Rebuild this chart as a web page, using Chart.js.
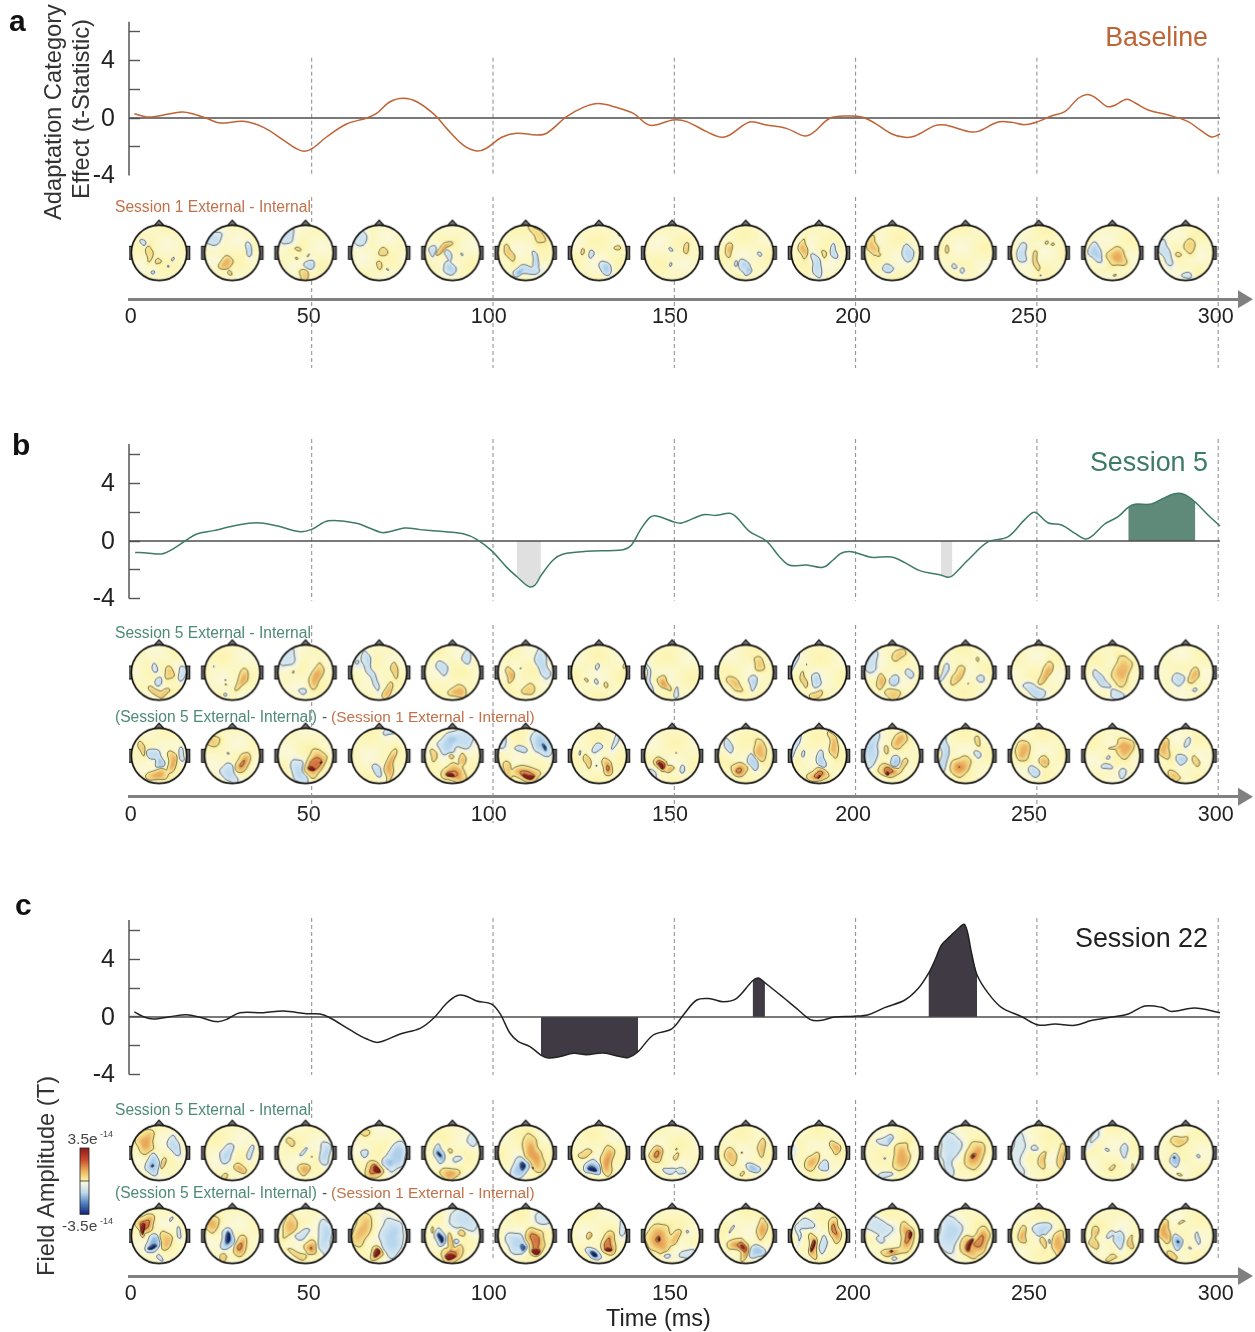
<!DOCTYPE html>
<html>
<head>
<meta charset="utf-8">
<title>Adaptation category effect</title>
<script src="https://cdn.jsdelivr.net/npm/chart.js@4/dist/chart.umd.min.js"></script>
<style>
  html, body { margin: 0; background: #fff; overflow: hidden; }
  canvas { position: absolute; left: 0; }
</style>
</head>
<body>
<canvas id="panelA" width="1255" height="380" style="top:0"></canvas>
<canvas id="panelB" width="1255" height="405" style="top:425px"></canvas>
<canvas id="panelC" width="1255" height="442" style="top:890px"></canvas>
<script>
// Time courses (ms, t-statistic)
var timesA = [1.1,4.5,7.3,14.2,17.4,21,24.7,31.2,36.7,42.2,45.9,47.9,50,54.1,59.6,65.2,67.9,71.6,75.3,79,84,87.2,91.8,95.5,98.2,102.4,106.5,112,114.8,120.3,124.9,129,134,138.7,143.3,149.7,153.4,158.9,163,165.3,170.8,175.4,180.9,186,188.3,192.9,198,201.7,205.4,210,213.6,216.4,221.9,224.7,231,233.8,239.3,243,246.7,250.3,254,257.7,261.4,263.9,266,269.2,271,274.7,277,280.7,286.2,291.7,295,298.2,300.5];
var valuesA = [0.3,0.07,0.12,0.42,0.28,-0.02,-0.35,-0.23,-0.65,-1.53,-2.15,-2.31,-2.15,-1.32,-0.42,0,0.32,1.13,1.37,1.13,0.2,-0.72,-1.88,-2.29,-2.1,-1.34,-1.06,-1.18,-1.06,0.09,0.74,1,0.74,0.32,-0.51,-0.14,-0.25,-0.95,-1.34,-1.18,-0.28,-0.49,-0.72,-1.25,-1.02,-0.02,0.14,0.07,-0.37,-1.11,-1.34,-1.25,-0.53,-0.49,-0.93,-0.93,-0.28,-0.3,-0.46,-0.25,0.14,0.44,1.37,1.64,1.44,0.81,0.83,1.3,1.06,0.56,0.21,-0.25,-0.83,-1.32,-1.11];

var timesB = [1.3,4.5,8.6,10.9,15.5,18.3,22.9,28.4,34.8,40.3,46.8,50,54.6,62.4,66.1,69.8,75.7,79.9,85.4,91.8,95.5,99.6,103.8,106.6,109.9,111.6,113.2,116.6,119.4,125.8,135.9,138.2,140.6,143.3,145.1,149.7,152,158,161.6,165.3,167.2,170.8,175.4,179,181.8,186.5,191,193.8,195.7,197,199.3,204.4,209.9,213.6,217.7,223.5,225.5,226.7,231,236.6,242,246.7,249.4,253,256.8,260.5,263.2,265,268.7,272.4,275.2,277,281.6,284.8,288,290.8,293.7,297.2,300.5];
var valuesB = [-0.79,-0.83,-0.9,-0.67,0.07,0.49,0.72,1.04,1.27,1.06,0.65,0.81,1.41,1.23,0.88,0.58,0.9,0.79,0.67,0.51,0.12,-0.67,-1.83,-2.48,-3.17,-3.06,-2.41,-1.32,-0.9,-0.72,-0.6,-0.28,0.76,1.64,1.74,1.34,1.25,1.83,1.78,1.92,1.64,0.65,0,-1.09,-1.69,-1.67,-1.83,-1.32,-0.9,-0.76,-0.76,-1.13,-1.11,-1.5,-2.06,-2.36,-2.52,-2.41,-1.32,-0.05,0.28,1.5,2,1.27,1.11,0.53,0.14,0.3,1.18,1.69,2.34,2.55,2.57,2.96,3.29,3.22,2.69,1.81,1.04];

var timesC = [1.1,3.6,6.3,10.9,15.5,19.2,23.8,26.6,30.2,36.7,42.2,48.6,52.3,55,60.6,65.2,68.4,74.4,79.9,83.6,87.2,90,92.3,95.5,99.6,101.9,104.7,107,110.2,113.2,115.3,118.5,122.2,125.8,130.4,135,137.3,140,144.2,149.3,152.5,156.2,159.9,163.5,167.2,171.6,173.2,175,180,183.7,187.4,190.2,194.3,199.6,203.5,208,213.6,217.3,220.1,221.9,223.7,226,227.9,230.1,232,233.5,236.6,240.2,245.8,250.4,255,260.5,265,270.6,275.2,279.8,284.4,287.1,293.5,300.5];
var valuesC = [0.35,0.02,-0.14,0.02,0.16,-0.02,-0.32,-0.16,0.3,0.3,0.42,0.23,0.21,-0.05,-0.9,-1.53,-1.76,-1.18,-0.79,-0.09,0.95,1.48,1.48,1.11,0.9,0.25,-1.13,-1.71,-2.06,-2.64,-2.85,-2.75,-2.52,-2.62,-2.5,-2.75,-2.82,-2.41,-1.25,-0.83,0.14,1.18,1.27,1.06,1.3,2.52,2.71,2.38,1.37,0.6,-0.16,-0.25,0,0.05,0.16,0.65,1.18,1.99,3.03,3.96,5,5.58,6.04,6.41,4.42,2.92,1.64,0.67,0.02,-0.56,-0.49,-0.58,-0.25,0,0.21,0.76,0.67,0.39,0.62,0.3];

// Significant time windows (ms)
var shadeB = [[106.6,113.2],[223.5,226.7],[275.2,293.7]];
var shadeC = [[113.2,140],[171.6,175],[220.1,233.5]];

// Axis ticks
var yTicks = [-4,-2,0,2,4,6];
var yLabelled = [-4,0,4];
var xTickLabels = ['0','50','100','150','200','250','300'];
var xLabelAt = [0.1,49.2,98.8,148.8,199.3,247.8,299.3];
var dashTimes = [50,100,150,200,250,300];

// Time each scalp map is taken at (ms)
var headTimes = [7.9,28.1,48.3,68.6,88.8,109,129.2,149.4,169.7,189.9,210.1,230.3,250.5,270.8,291];

// Scalp maps: one list per head, each patch is [x, y, rx, ry, rot, amplitude]
var topoA = [
 [[-54,-40,10,12,0,-25],[-37,2,10,25,10,22],[-6,36,8,8,0,22],[46,19,5,5,0,-22],[36,45,5,5,0,-22],[-19,72,6,6,0,-22]],
 [[-70,-55,30,25,0,-30],[58,-10,10,25,0,-30],[-24,39,20,20,0,45],[-4,75,8,8,0,30]],
 [[-64,-58,22,28,35,-25],[-31,-18,9,5,0,22],[-31,22,4,4,0,22],[18,45,16,17,0,-30],[-10,75,15,20,-20,35],[12,8,3,3,0,-22]],
 [[-70,-52,18,32,30,-25],[17,-1,12,14,0,25],[-1,50,9,15,0,25],[26,58,3,3,0,-22]],
 [[-67,-10,10,20,10,-25],[-28,-16,10,34,50,45],[-13,8,10,14,0,-25],[-12,57,18,22,-30,-30],[39,2,3,6,0,-25]],
 [[39,-70,14,38,-40,25],[-58,-4,12,28,-20,35],[2,63,38,14,0,-30],[33,20,10,28,0,-30],[-28,75,14,14,0,-30]],
 [[-65,-10,6,10,0,22],[-31,5,7,11,0,-22],[63,-18,10,8,0,25],[75,-64,5,12,-35,22],[29,53,20,20,15,-35]],
 [[0,-12,6,5,0,-20],[54,-12,9,15,10,30],[-7,42,5,9,0,-20]],
 [[-58,-13,12,24,0,42],[-10,50,15,22,-25,-30],[8,72,12,12,0,-28],[53,0,7,9,0,-20],[-40,33,5,8,0,-20]],
 [[-55,-16,14,33,0,45],[-10,45,16,38,-20,-30],[16,2,8,12,0,22],[53,-4,11,23,0,-28]],
 [[-70,-28,17,35,-10,40],[-52,12,6,6,0,25],[54,5,17,28,10,-30],[-12,54,17,13,0,-30]],
 [[-70,-10,6,15,0,25],[-34,45,8,8,0,-20],[-10,65,10,11,0,-20]],
 [[-60,0,17,33,-15,-30],[-10,24,8,30,0,30],[22,-37,6,6,0,25],[48,-28,6,5,0,25],[6,77,4,4,0,-18]],
 [[-59,2,20,32,-15,-35],[16,17,30,30,0,50],[10,82,6,3,0,25]],
 [[-72,2,17,40,-15,-25],[19,-22,16,25,10,28],[-26,6,7,7,0,20],[10,84,18,10,0,-22]]
];
var topoB1 = [
 [[-19,-19,11,14,0,-22],[2,27,13,16,0,-25],[35,3,14,24,-25,35],[-16,65,22,12,25,35],[20,72,20,10,-20,35],[81,3,12,22,0,-22]],
 [[33,27,15,34,25,45],[-28,24,3,3,0,25],[-25,42,3,3,0,25],[-22,78,7,5,0,-20],[-64,-22,2,3,0,-20]],
 [[-64,-52,25,30,35,-22],[39,15,17,45,15,50],[-13,63,10,8,0,-22],[-45,3,3,6,0,-30]],
 [[-31,-4,10,62,-20,-25],[-64,-45,12,10,0,-12],[59,-7,10,25,0,35],[32,69,12,25,15,42]],
 [[-34,-19,16,20,0,-25],[53,-58,13,22,0,-25],[24,72,30,20,0,50]],
 [[-60,11,13,28,0,48],[60,-34,18,50,-12,-30],[14,65,20,18,0,35],[-19,-18,3,3,0,-25]],
 [[-4,-18,5,8,0,-20],[-48,22,5,5,0,25],[-10,36,5,9,0,-22],[20,45,8,10,0,25],[93,-22,6,12,0,22]],
 [[-82,27,8,55,-12,-20],[-28,39,14,30,-40,55],[14,69,6,20,25,-22]],
 [[45,-28,15,28,-25,35],[-40,45,16,30,-30,38],[27,35,12,26,15,-30]],
 [[-92,-34,8,50,15,-20],[-55,27,8,24,0,32],[-10,27,15,24,0,-28],[-12,81,20,12,0,30],[-49,-34,2,2,0,-25]],
 [[-76,-40,20,35,0,-22],[23,-67,22,16,0,32],[-43,36,11,24,0,40],[2,24,16,16,0,-28],[59,6,11,13,0,-25],[8,75,25,16,0,35]],
 [[-78,0,11,30,20,-25],[-30,8,16,36,25,40],[48,-48,5,9,0,22],[54,17,14,13,0,-25],[11,42,2,2,0,30]],
 [[24,2,16,36,25,48],[-14,63,34,18,25,-28]],
 [[34,-12,28,50,5,45],[-38,24,12,40,-35,-28],[16,81,20,16,0,-22]],
 [[-24,21,20,22,0,-30],[30,11,17,25,0,45],[34,66,10,6,-30,-20]]
];
var topoB2 = [
 [[-58,-27,9,22,-15,30],[-22,-8,22,20,25,-30],[0,28,14,20,0,-38],[45,16,15,36,5,48],[-4,70,35,18,0,50],[81,-2,9,22,0,-22]],
 [[-70,-57,22,18,0,30],[36,22,22,34,25,55],[-10,64,24,30,-25,-30],[-19,-6,4,4,0,-20]],
 [[33,28,30,50,20,68],[24,49,10,6,0,90],[-22,58,20,50,-25,-30],[50,18,3,3,0,85]],
 [[39,40,14,55,12,50],[-7,52,14,18,0,-28],[45,-87,20,10,0,-20]],
 [[-16,-39,28,35,25,-35],[39,-63,35,30,0,-28],[-72,-2,10,22,0,32],[-10,7,8,10,0,25],[8,64,40,30,0,60],[-7,72,12,8,0,85],[33,10,10,20,0,40]],
 [[-22,-24,18,10,0,-28],[57,-39,30,45,-25,-35],[63,-27,5,12,0,-55],[-64,46,12,28,0,35],[2,64,45,25,0,65],[5,70,20,6,0,100],[-84,-57,15,25,30,-20]],
 [[-5,-29,14,14,0,-25],[57,-57,8,25,15,-18],[-40,16,10,20,0,35],[27,42,17,28,0,60],[-67,-6,3,8,0,-30],[-10,40,2,2,0,-25]],
 [[-40,28,20,20,0,75],[-10,46,14,10,0,45],[-43,31,5,9,0,95],[33,49,8,14,15,-22],[-76,64,6,22,-40,-15],[15,-3,2,2,0,30]],
 [[-64,-33,12,25,-25,-28],[51,-23,20,36,-15,45],[-28,46,28,22,0,60],[27,25,14,24,0,-30]],
 [[-85,-33,8,50,15,-20],[51,-45,14,42,-15,45],[8,16,13,26,0,-30],[-52,-8,6,12,0,-20],[-4,70,35,20,0,60],[0,78,4,4,0,100]],
 [[-76,-20,22,60,10,-30],[27,-59,23,25,0,45],[6,16,16,18,0,-35],[-10,52,35,20,0,65],[-12,64,6,5,0,100],[-18,-20,8,12,0,30],[38,34,8,22,20,35]],
 [[-78,-2,14,60,5,-32],[-18,34,32,32,0,55],[47,-54,10,18,-10,30],[39,-6,10,10,0,-22]],
 [[-57,-18,22,34,-20,45],[22,16,14,22,0,42],[-20,58,17,20,0,-30]],
 [[43,-33,25,38,-30,50],[3,-30,22,5,-25,25],[-20,42,17,10,0,-25],[31,58,11,15,0,-22],[-8,10,7,5,0,-22]],
 [[-75,-27,18,34,0,45],[-18,13,17,20,0,-35],[-39,70,25,14,30,40],[34,16,10,15,0,32],[7,-45,10,18,0,-22]]
];
var topoC1 = [
 [[-46,-40,28,40,0,50],[-22,45,20,40,-15,-38],[-22,47,4,4,0,-60],[14,36,8,20,0,35],[57,-24,16,34,-15,-28]],
 [[-19,2,20,30,0,-30],[66,-4,10,22,0,-25],[24,57,18,15,0,45],[-31,81,10,12,0,28]],
 [[-58,-37,10,12,0,25],[-12,-7,12,6,-45,-15],[70,2,18,38,0,-32],[-7,57,20,18,0,50],[26,20,2,2,0,25]],
 [[-52,-76,16,12,0,22],[-48,-1,12,14,0,-25],[63,14,30,48,15,-35],[27,32,14,14,0,-25],[-22,63,32,26,30,68],[-12,66,14,8,40,95]],
 [[-49,8,15,32,0,-50],[-49,8,3,8,0,-65],[-6,-10,8,8,0,25],[14,24,15,10,0,-20],[-4,72,32,18,0,50],[75,-52,14,20,0,-18]],
 [[27,2,28,60,-20,55],[-24,57,28,36,0,-40],[-16,50,8,14,0,-65],[23,53,4,4,0,85]],
 [[-52,2,20,12,0,30],[30,27,20,50,0,55],[-22,57,28,24,0,-55],[-24,63,12,8,0,-90]],
 [[-54,8,22,26,0,60],[17,14,9,10,0,25],[-19,60,20,10,0,-22],[30,71,15,10,0,-22],[14,-10,2,2,0,25]],
 [[-52,8,18,28,10,40],[59,-22,10,30,0,35],[20,53,24,16,0,-42],[-12,77,6,6,0,22],[-12,0,4,4,0,22]],
 [[-24,27,22,30,25,45],[57,-22,15,20,0,42],[20,51,20,16,20,-28],[-94,-22,6,30,0,-15]],
 [[33,14,25,52,20,52],[-28,-46,22,10,0,-20],[-12,-46,7,14,0,-20],[-16,77,22,8,0,-20],[-31,17,4,4,0,-18]],
 [[-58,-22,32,50,0,-22],[-58,50,10,30,0,-18],[33,8,30,45,15,58],[27,8,5,8,0,80]],
 [[-75,2,18,70,0,-16],[-18,-13,12,10,0,-22],[16,20,12,30,10,38],[82,20,12,45,0,38]],
 [[-75,-46,8,35,40,-15],[46,-4,10,24,0,-25],[-17,-13,6,5,0,-18],[-7,48,10,6,-25,30],[67,48,4,12,0,30]],
 [[-20,-46,30,14,-20,35],[-36,24,14,22,0,-45],[-38,20,3,3,0,-60],[46,14,4,6,0,-20],[-26,72,8,5,0,22]]
];
var topoC2 = [
 [[-46,-45,30,30,-35,65],[-58,-27,8,24,10,92],[-22,28,24,30,0,-50],[-24,42,14,6,0,-70],[20,16,20,30,0,40],[71,-8,7,18,0,-22],[45,-63,5,5,0,-18],[6,78,8,9,0,-22]],
 [[-70,-45,20,28,20,42],[-19,13,22,34,0,-55],[-19,10,8,24,0,-80],[29,34,20,34,0,58],[-31,82,12,14,0,35]],
 [[-60,-33,18,40,25,40],[-16,-8,22,14,-35,-22],[70,4,22,60,0,-30],[20,46,20,24,0,55],[-34,64,30,12,20,30]],
 [[-64,-20,25,60,20,45],[45,4,38,60,0,-35],[-12,64,22,22,0,70],[-12,66,10,10,40,95]],
 [[-46,10,16,30,5,-55],[-46,10,5,16,0,-90],[-10,16,8,28,0,42],[8,28,10,14,0,-22],[2,64,34,28,0,65],[-4,72,20,9,0,95],[39,-57,50,30,25,-22],[-70,-20,4,12,0,25],[36,-8,10,10,0,30]],
 [[33,16,30,50,5,65],[33,52,14,12,0,88],[-34,28,30,40,-40,-30],[-16,48,8,14,0,-60],[57,-63,25,25,0,-18]],
 [[-36,4,10,12,0,48],[36,34,24,40,0,65],[33,52,10,7,0,95],[-24,64,24,20,0,-60],[-22,64,12,8,0,-90],[81,-33,10,25,0,-18]],
 [[-46,10,40,50,0,55],[-43,13,5,5,0,85],[14,10,15,25,30,40],[-24,64,12,12,0,-22],[51,64,28,12,-30,-20],[57,-20,5,5,0,-15]],
 [[57,-20,15,36,0,50],[-34,34,35,18,-15,55],[-10,52,13,35,0,50],[36,58,25,22,0,-40],[-52,-20,5,14,20,-18]],
 [[-40,-39,28,14,0,-20],[14,34,9,28,0,-22],[-22,34,15,40,-10,65],[-24,34,5,24,0,90],[57,-20,18,42,0,60],[-76,4,8,24,0,-16]],
 [[-52,-33,42,25,0,-22],[-46,16,12,10,0,-20],[51,4,22,50,0,60],[59,-8,6,12,0,82],[2,58,32,12,0,50],[-1,55,5,3,0,88],[8,86,9,7,0,-22]],
 [[-58,-8,36,60,0,-30],[57,16,25,45,0,60],[14,40,30,35,0,50],[20,28,7,28,20,88]],
 [[-57,-2,12,28,-15,42],[10,-27,30,20,0,-28],[19,16,8,25,0,32],[72,28,20,45,10,48],[40,22,3,8,0,-20]],
 [[28,16,16,30,0,-30],[-8,-2,12,9,0,-20],[-65,-14,12,20,0,35],[-63,28,14,16,0,35],[70,22,8,22,0,38],[-8,82,18,8,0,30]],
 [[-75,-14,18,40,0,50],[-33,18,16,26,0,-50],[-33,18,3,3,0,-70],[-45,70,22,10,25,35],[43,4,5,18,10,-20],[-17,-48,10,4,0,22],[12,50,4,4,0,-18]]
];

// Page geometry (px)
var PX_PER_UNIT = 14.4;
var X_ZERO = 130.4, PX_PER_MS = 3.626;
var AXIS_LEFT = 129, AXIS_RIGHT = 1238;
var HEAD_R = 27.7;
var FONT = '"Liberation Sans", Arial, sans-serif';

var ORANGE = '#bf6436', GREEN = '#3d7a67', DARK = '#222222';
var ORANGE_TXT = '#c2714a', GREEN_TXT = '#4d8a78';

var FIELD_STOPS = [
  [-1,20,40,130],[-0.75,50,90,170],[-0.45,130,175,220],[-0.2,196,222,240],[-0.04,224,236,238],
  [0.04,250,248,218],[0.1,252,246,186],[0.2,250,234,150],[0.4,242,208,125],[0.6,232,168,88],
  [0.8,208,92,50],[1,150,25,25]
];
var CONTOUR_LEVELS = [-0.78,-0.5,-0.04,0.2,0.64,0.88];

function fieldColor(v) {
  if (v <= FIELD_STOPS[0][0]) return FIELD_STOPS[0].slice(1);
  for (var i = 1; i < FIELD_STOPS.length; i++) {
    var b = FIELD_STOPS[i];
    if (v <= b[0]) {
      var a = FIELD_STOPS[i - 1];
      var f = (v - a[0]) / (b[0] - a[0]);
      return [a[1] + (b[1] - a[1]) * f, a[2] + (b[2] - a[2]) * f, a[3] + (b[3] - a[3]) * f];
    }
  }
  return FIELD_STOPS[FIELD_STOPS.length - 1].slice(1);
}

// Build one scalp map as a canvas, used as the point style of a scatter dataset
function buildHead(patches, index) {
  var size = 72, c = size / 2, r = HEAD_R;
  var n = size + 1;
  var s = index * 1.37 + patches[0][0] * 0.05;
  var field = new Float32Array(n * n);
  for (var j = 0; j < n; j++) {
    for (var i = 0; i < n; i++) {
      var qx = (i - c) / r * 100, qy = (j - c) / r * 100;
      // roughen the outlines so patches do not read as plain ellipses
      var px = qx + 5 * Math.sin(qy * 0.06 + s) + 2.5 * Math.sin((qx + qy) * 0.09 + s * 2.3);
      var py = qy + 5 * Math.sin(qx * 0.07 + s * 1.7) + 2.5 * Math.sin((qx - qy) * 0.085 + s * 0.7);
      // faint paler areas in the background
      var v = 0.08 + 0.035 * Math.sin(qx * 0.035 + s) * Math.sin(qy * 0.04 + s * 1.3);
      patches.forEach(function(p) {
        var rot = p[4] * Math.PI / 180;
        var dx = px - p[0], dy = py - p[1];
        var u = (dx * Math.cos(rot) + dy * Math.sin(rot)) / (p[2] * 1.12);
        var w = (-dx * Math.sin(rot) + dy * Math.cos(rot)) / (p[3] * 1.12);
        var amp = p[5] / 100;
        var k = Math.log(Math.max(Math.abs(amp) / 0.12, 1.05));
        var q = u * u + w * w;
        v += amp * Math.exp(-k * q * Math.sqrt(q));
      });
      field[j * n + i] = v;
    }
  }

  var canvas = document.createElement('canvas');
  canvas.width = size; canvas.height = size;
  var ctx = canvas.getContext('2d');

  var buf = document.createElement('canvas');
  buf.width = size; buf.height = size;
  var bctx = buf.getContext('2d');
  var img = bctx.createImageData(size, size);
  for (var y = 0; y < size; y++) {
    for (var x = 0; x < size; x++) {
      var col = fieldColor(field[y * n + x]);
      var o = (y * size + x) * 4;
      img.data[o] = col[0]; img.data[o + 1] = col[1]; img.data[o + 2] = col[2]; img.data[o + 3] = 255;
    }
  }
  bctx.putImageData(img, 0, 0);

  // ears and nose sit behind the head circle
  ctx.lineWidth = 1.1;
  ctx.strokeStyle = '#111';
  ctx.fillStyle = '#666';
  ctx.beginPath(); ctx.rect(c - r - 3, c - 6.5, 3.6, 13); ctx.fill(); ctx.stroke();
  ctx.beginPath(); ctx.rect(c + r - 0.6, c - 6.5, 3.6, 13); ctx.fill(); ctx.stroke();
  ctx.fillStyle = '#777';
  ctx.beginPath(); ctx.moveTo(c - 5.5, c - r + 1); ctx.lineTo(c, c - r - 5); ctx.lineTo(c + 5.5, c - r + 1); ctx.closePath(); ctx.fill(); ctx.stroke();

  ctx.save();
  ctx.beginPath(); ctx.arc(c, c, r, 0, Math.PI * 2); ctx.clip();
  ctx.drawImage(buf, 0, 0);

  // marching squares for the contour lines
  ctx.lineWidth = 0.7;
  ctx.strokeStyle = 'rgba(25,25,25,0.8)';
  ctx.beginPath();
  CONTOUR_LEVELS.forEach(function(level) {
    for (var j = 0; j < n - 1; j++) {
      for (var i = 0; i < n - 1; i++) {
        var a = field[j * n + i], b = field[j * n + i + 1];
        var d = field[(j + 1) * n + i], e = field[(j + 1) * n + i + 1];
        var pts = [];
        if ((a < level) !== (b < level)) pts.push([i + (level - a) / (b - a), j]);
        if ((b < level) !== (e < level)) pts.push([i + 1, j + (level - b) / (e - b)]);
        if ((d < level) !== (e < level)) pts.push([i + (level - d) / (e - d), j + 1]);
        if ((a < level) !== (d < level)) pts.push([i, j + (level - a) / (d - a)]);
        for (var t = 0; t + 1 < pts.length; t += 2) {
          ctx.moveTo(pts[t][0], pts[t][1]);
          ctx.lineTo(pts[t + 1][0], pts[t + 1][1]);
        }
      }
    }
  });
  ctx.stroke();
  ctx.restore();

  ctx.lineWidth = 1.7;
  ctx.strokeStyle = '#111';
  ctx.beginPath(); ctx.arc(c, c, r, 0, Math.PI * 2); ctx.stroke();
  return canvas;
}

function toPoints(times, values) {
  return times.map(function(t, i) { return { x: t, y: values[i] }; });
}

function headDataset(maps, yValue) {
  return {
    type: 'scatter',
    data: headTimes.map(function(t) { return { x: t, y: yValue }; }),
    pointStyle: maps.map(buildHead),
    pointRadius: 1,
    showLine: false,
    order: 0
  };
}

function makePanel(cfg) {
  var yOf = function(px) { return (cfg.zeroY - px) / PX_PER_UNIT; };
  var xMin = (AXIS_LEFT - X_ZERO) / PX_PER_MS;
  var xMax = (AXIS_RIGHT - X_ZERO) / PX_PER_MS;
  var canvas = document.getElementById(cfg.id);

  var datasets = [];
  cfg.rows.forEach(function(row) { datasets.push(headDataset(row.maps, yOf(row.y))); });
  datasets.push({
    type: 'line',
    data: toPoints(cfg.times, cfg.values),
    borderColor: cfg.color,
    borderWidth: 1.5,
    pointRadius: 0,
    tension: 0.35,
    clip: false,
    order: 1
  });
  datasets.push({
    type: 'line',
    data: [{ x: xMin, y: 0 }, { x: 300.5, y: 0 }],
    borderColor: '#4d4d4d',
    borderWidth: 1.6,
    pointRadius: 0,
    clip: false,
    order: 2
  });
  datasets.push({
    type: 'line',
    data: [{ x: xMin, y: -4 }, { x: xMin, y: yOf(cfg.axisTop) }],
    borderColor: '#555555',
    borderWidth: 1.5,
    pointRadius: 0,
    clip: false,
    order: 2
  });
  (cfg.shades || []).forEach(function(range, i) {
    var pts = toPoints(cfg.times, cfg.values).filter(function(p) {
      return p.x >= range[0] && p.x <= range[1];
    });
    datasets.push({
      type: 'line',
      data: pts,
      borderWidth: 0,
      borderColor: 'transparent',
      backgroundColor: cfg.shadeColors[i],
      fill: { value: 0 },
      pointRadius: 0,
      tension: 0.35,
      order: 3
    });
  });

  var chrome = {
    id: 'chrome',
    beforeDatasetsDraw: function(chart) {
      var ctx = chart.ctx, xs = chart.scales.x;
      ctx.save();
      ctx.translate(0, -cfg.top);
      ctx.strokeStyle = '#8a8a8a';
      ctx.lineWidth = 1;
      ctx.setLineDash([4, 3]);
      dashTimes.forEach(function(t, i) {
        var x = xs.getPixelForValue(t);
        cfg.dashes.forEach(function(seg) {
          ctx.beginPath();
          ctx.moveTo(x, seg[0]);
          ctx.lineTo(x, seg[1] === null ? cfg.dashEnds[i] : seg[1]);
          ctx.stroke();
        });
      });
      ctx.restore();
    },
    afterDraw: function(chart) {
      var ctx = chart.ctx, a = chart.chartArea;
      ctx.save();
      ctx.fillStyle = '#808080';
      ctx.beginPath();
      ctx.moveTo(a.right, a.bottom - 9);
      ctx.lineTo(a.right + 15, a.bottom);
      ctx.lineTo(a.right, a.bottom + 9);
      ctx.closePath();
      ctx.fill();

      ctx.translate(0, -cfg.top);
      ctx.textBaseline = 'alphabetic';
      cfg.texts.forEach(function(t) {
        ctx.save();
        ctx.font = t.font;
        ctx.fillStyle = t.color;
        ctx.textAlign = t.align || 'left';
        ctx.translate(t.x, t.y);
        if (t.rot) ctx.rotate(-Math.PI / 2);
        ctx.fillText(t.text, 0, 0);
        ctx.restore();
      });
      if (cfg.extraDraw) cfg.extraDraw(ctx);
      ctx.restore();
    }
  };

  return new Chart(canvas, {
    data: { datasets: datasets },
    plugins: [chrome],
    options: {
      responsive: false,
      animation: false,
      devicePixelRatio: 1,
      layout: {
        padding: {
          top: cfg.axisTop - cfg.top,
          right: 1255 - AXIS_RIGHT,
          bottom: canvas.height - 44 - (cfg.axisY - cfg.top),
          left: 0
        }
      },
      plugins: { legend: { display: false }, tooltip: { enabled: false } },
      scales: {
        x: {
          type: 'linear',
          min: xMin,
          max: xMax,
          afterFit: function(s) { s.height = 44; s.paddingLeft = 0; s.paddingRight = 0; },
          afterBuildTicks: function(s) {
            s.ticks = xLabelAt.map(function(v) { return { value: v }; });
          },
          grid: { display: false },
          border: { display: true, color: '#808080', width: 3 },
          ticks: {
            autoSkip: false,
            maxRotation: 0,
            padding: -3,
            color: '#222',
            font: { family: FONT, size: 21.5 },
            callback: function(v, i) { return xTickLabels[i]; }
          }
        },
        y: {
          type: 'linear',
          min: yOf(cfg.axisY),
          max: yOf(cfg.axisTop),
          afterFit: function(s) { s.width = AXIS_LEFT; s.paddingTop = 0; s.paddingBottom = 0; },
          afterBuildTicks: function(s) {
            s.ticks = yTicks.map(function(v) { return { value: v }; });
          },
          border: { display: false },
          grid: {
            drawOnChartArea: false,
            drawTicks: true,
            tickLength: -11,
            tickWidth: 1.4,
            tickColor: function(c) {
              if (cfg.noBottomTick && c.tick && c.tick.value === -4) return 'transparent';
              return '#555555';
            }
          },
          ticks: {
            autoSkip: false,
            padding: 25,
            labelOffset: 1,
            color: '#222',
            font: { family: FONT, size: 25 },
            callback: function(v) { return yLabelled.indexOf(v) >= 0 ? String(v) : ''; }
          }
        }
      }
    }
  });
}

function label(text, x, y, size, color, extra) {
  var weight = extra && extra.bold ? 'bold ' : '';
  return {
    text: text, x: x, y: y,
    font: weight + size + 'px ' + FONT,
    color: color,
    align: extra && extra.align,
    rot: extra && extra.rot
  };
}

makePanel({
  id: 'panelA', top: 0, zeroY: 118, axisTop: 21.7, axisY: 299.3, noBottomTick: true,
  times: timesA, values: valuesA, color: ORANGE,
  rows: [{ maps: topoA, y: 252.8 }],
  dashes: [[57.7, 174.3], [197, 368]], dashEnds: [368, 368, 368, 368, 368, 368],
  texts: [
    label('a', 9, 31, 30, '#111', { bold: true }),
    label('Adaptation Category', 60.5, 220, 23.7, '#333', { rot: true }),
    label('Effect (t-Statistic)', 89, 199, 23.7, '#333', { rot: true }),
    label('Baseline', 1208, 46, 26.8, ORANGE, { align: 'right' }),
    label('Session 1 External - Internal', 115, 212, 15.6, ORANGE_TXT)
  ]
});

makePanel({
  id: 'panelB', top: 425, zeroY: 541, axisTop: 444, axisY: 796.7,
  times: timesB, values: valuesB, color: GREEN,
  shades: shadeB, shadeColors: ['#e0e0e0', '#e0e0e0', '#5f8a7a'],
  rows: [{ maps: topoB1, y: 672.5 }, { maps: topoB2, y: 755.8 }],
  dashes: [[439, 600.7], [625, null]], dashEnds: [823, 823, 823, 795, 823, 795],
  texts: [
    label('b', 12, 455, 30, '#111', { bold: true }),
    label('Session 5', 1208, 470.7, 26.9, GREEN, { align: 'right' }),
    label('Session 5 External - Internal', 115, 637.5, 15.6, GREEN_TXT),
    label('(Session 5 External- Internal)', 115, 721.5, 15.6, GREEN_TXT),
    label('-', 322, 721.5, 15.6, '#555'),
    label('(Session 1 External - Internal)', 331, 721.5, 15.4, ORANGE_TXT)
  ]
});

makePanel({
  id: 'panelC', top: 890, zeroY: 1017, axisTop: 920, axisY: 1276,
  times: timesC, values: valuesC, color: DARK,
  shades: shadeC, shadeColors: ['#3f3a44', '#3f3a44', '#3f3a44'],
  rows: [{ maps: topoC1, y: 1152.8 }, { maps: topoC2, y: 1235.8 }],
  dashes: [[918, 1075], [1100, null]], dashEnds: [1118, 1258, 1201, 1258, 1200, 1258],
  texts: [
    label('c', 15, 915, 30, '#111', { bold: true }),
    label('Session 22', 1208, 947.3, 26.9, '#222', { align: 'right' }),
    label('Session 5 External - Internal', 115, 1115, 15.6, GREEN_TXT),
    label('(Session 5 External- Internal)', 115, 1198, 15.6, GREEN_TXT),
    label('-', 322, 1198, 15.6, '#555'),
    label('(Session 1 External - Internal)', 331, 1198, 15.4, ORANGE_TXT),
    label('Field Amplitude (T)', 54, 1276, 23.7, '#333', { rot: true }),
    label('Time (ms)', 658.5, 1326, 23.5, '#222', { align: 'center' }),
    label('3.5e', 67.5, 1144, 15.5, '#444'),
    label('-14', 100, 1137, 9, '#444'),
    label('-3.5e', 62, 1231, 15.5, '#444'),
    label('-14', 100, 1224, 9, '#444')
  ],
  extraDraw: function(ctx) {
    // colour bar for the scalp maps
    var g = ctx.createLinearGradient(0, 1148, 0, 1214);
    g.addColorStop(0, '#8e1a1e');
    g.addColorStop(0.18, '#cc4a2c');
    g.addColorStop(0.36, '#eeb862');
    g.addColorStop(0.49, '#fbf0a0');
    g.addColorStop(0.51, '#fdfbe0');
    g.addColorStop(0.68, '#bcd8ea');
    g.addColorStop(0.84, '#4f7fc0');
    g.addColorStop(1, '#14267c');
    ctx.fillStyle = g;
    ctx.fillRect(80, 1148, 9, 66.3);
    ctx.strokeStyle = '#222';
    ctx.lineWidth = 0.8;
    ctx.strokeRect(80, 1148, 9, 66.3);
    ctx.beginPath(); ctx.moveTo(80, 1181); ctx.lineTo(89, 1181); ctx.stroke();
  }
});
</script>
</body>
</html>
